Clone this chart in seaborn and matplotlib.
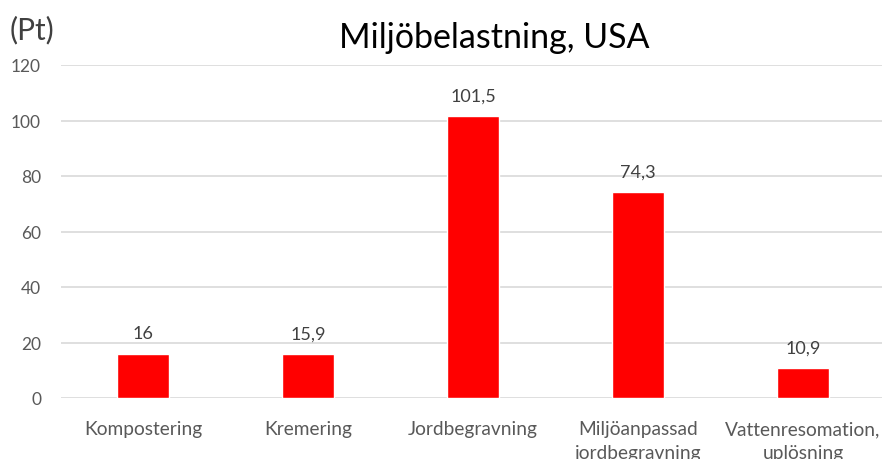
import matplotlib
matplotlib.use("Agg")
import matplotlib.pyplot as plt
import seaborn as sns
import pandas as pd

categories = ["Kompostering", "Kremering", "Jordbegravning",
              "Miljöanpassad\njordbegravning", "Vattenresomation,\nuplösning"]
values = [16, 15.9, 101.5, 74.3, 10.9]
value_labels = ["16", "15,9", "101,5", "74,3", "10,9"]
yticks = [0, 20, 40, 60, 80, 100, 120]

sns.set_theme(style="white")
plt.rcParams['font.family'] = ['Lato', 'DejaVu Sans']

df = pd.DataFrame({"cat": categories, "val": values})

fig = plt.figure(figsize=(8.82, 4.6), dpi=100)
ax = fig.add_axes([60.5/882, 61/460, 825/882, 333/460])
sns.barplot(data=df, x="cat", y="val", color="#ff0000", saturation=1,
            width=0.31, ax=ax, zorder=3)

ax.set_ylim(0, 120)
ax.set_xlim(-0.5, 4.5)
ax.set_yticks(yticks)
ax.set_yticklabels([str(t) for t in yticks])
ax.yaxis.grid(True, color="#d9d9d9", linewidth=1.2, zorder=0)
ax.set_axisbelow(True)
for s in ax.spines.values():
    s.set_visible(False)
ax.set_xlabel("")
ax.set_ylabel("")
ax.tick_params(axis="y", length=0, pad=14, labelsize=12.5, labelcolor="#595959")
ax.tick_params(axis="x", length=0, pad=16, labelsize=13.8, labelcolor="#595959")
for lbl in ax.get_xticklabels():
    lbl.set_linespacing(1.45)

for i, (v, t) in enumerate(zip(values, value_labels)):
    ax.annotate(t, (i, v), xytext=(0, 9), textcoords="offset points",
                ha="center", va="bottom", fontsize=13, color="#404040")

fig.text(494/882, 1 - 38/460, "Miljöbelastning, USA", ha="center", va="center",
         fontsize=24.5, color="#000000")
fig.text(10/882, 1 - 30/460, "(Pt)", ha="left", va="center",
         fontsize=21.5, color="#404040")

fig.savefig("out.png", dpi=100)
